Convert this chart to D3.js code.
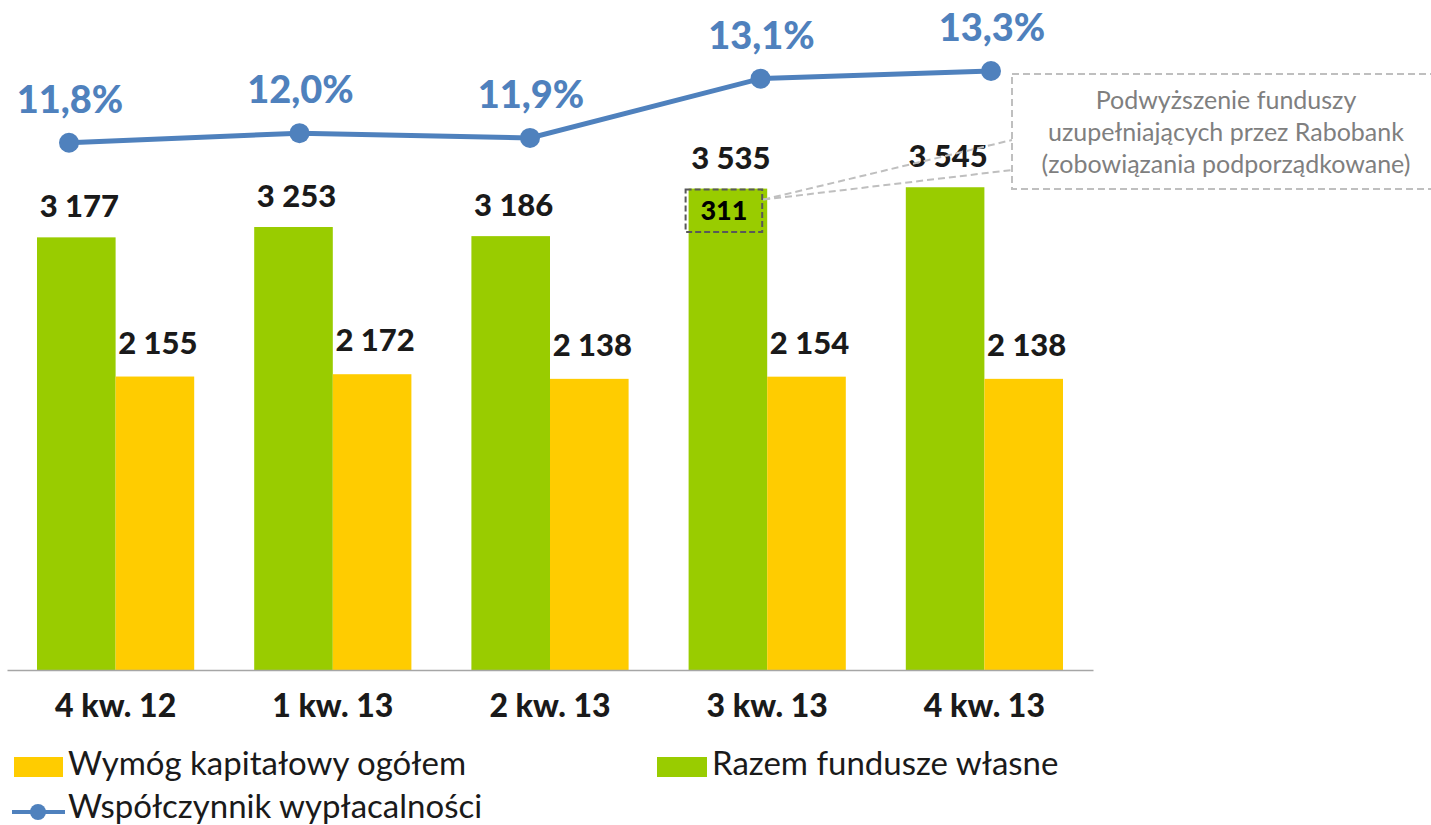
<!DOCTYPE html>
<html><head><meta charset="utf-8">
<script src="https://cdn.jsdelivr.net/npm/d3@7"></script>
<style>body{margin:0;background:#fff}svg{display:block}</style>
</head><body><svg id="c" width="1431" height="825"></svg>
<script>
const categories = ["4 kw. 12","1 kw. 13","2 kw. 13","3 kw. 13","4 kw. 13"];
const ownFunds = [3177,3253,3186,3535,3545];      // Razem fundusze własne
const capitalReq = [2155,2172,2138,2154,2138];    // Wymóg kapitałowy ogółem
const solvency = [11.8,12.0,11.9,13.14,13.3];     // Współczynnik wypłacalności (%)
const incrementCategory = "3 kw. 13";
const incrementValue = 311;
const annotationLines = ["Podwyższenie funduszy","uzupełniających przez Rabobank","(zobowiązania podporządkowane)"];
const seriesNames = ["Razem fundusze własne","Wymóg kapitałowy ogółem","Współczynnik wypłacalności"];

const GREEN="#99CC00", YELLOW="#FFCC00", BLUE="#4F81BD", FONT="Lato, 'Open Sans', sans-serif";
const loc = d3.formatLocale({decimal:",",thousands:" ",grouping:[3],currency:["",""]});
const fmtN = loc.format(",d"), fmtP = v => loc.format(".1f")(v)+"%";

const svg = d3.select("#c");
const x0 = d3.scaleBand().domain(categories).range([7,1093]);
const x1 = d3.scaleBand().domain(["own","req"]).range([30, x0.bandwidth()-30]);
const y = d3.scaleLinear().domain([0,4920]).range([670,0]);
const xl = d3.scalePoint().domain(categories).range([69,991]);
const yl = d3.scaleLinear().domain([11.8,13.3]).range([142.7,71]);

const rows = categories.map((c,i)=>({c, own:ownFunds[i], req:capitalReq[i], s:solvency[i]}));

// bars
const g = svg.append("g");
g.selectAll("rect.own").data(rows).join("rect")
  .attr("x",d=>x0(d.c)+x1("own")).attr("width",x1.bandwidth())
  .attr("y",d=>y(d.own)).attr("height",d=>y(0)-y(d.own)).attr("fill",GREEN);
g.selectAll("rect.req").data(rows).join("rect")
  .attr("x",d=>x0(d.c)+x1("req")).attr("width",x1.bandwidth())
  .attr("y",d=>y(d.req)).attr("height",d=>y(0)-y(d.req)).attr("fill",YELLOW);

// bar labels
g.selectAll("text.own").data(rows).join("text")
  .attr("x",d=>x0(d.c)+x1("own")+x1.bandwidth()/2+3).attr("y",d=>y(d.own)-20)
  .attr("text-anchor","middle").attr("font-family",FONT).attr("font-weight",900)
  .attr("font-size",31).attr("fill","#1a1a1a").text(d=>fmtN(d.own));
g.selectAll("text.req").data(rows).join("text")
  .attr("x",d=>x0(d.c)+x1("req")+x1.bandwidth()/2+3).attr("y",d=>y(d.req)-23)
  .attr("text-anchor","middle").attr("font-family",FONT).attr("font-weight",900)
  .attr("font-size",31).attr("fill","#1a1a1a").text(d=>fmtN(d.req));

// x axis
const ax = svg.append("g").attr("transform","translate(0,670)")
  .call(d3.axisBottom(x0).tickSize(0).tickSizeOuter(0).tickPadding(24));
ax.select(".domain").attr("stroke","#a6a6a6").attr("stroke-width",1.5);
ax.selectAll("text").attr("font-family",FONT).attr("font-weight",900)
  .attr("font-size",32).attr("fill","#1a1a1a");

// increment box (311)
const incRow = rows.find(r=>r.c===incrementCategory);
const bx = x0(incRow.c)+x1("own")-3, bw = x1.bandwidth()-2;
const by0 = y(incRow.own), by1 = y(incRow.own-incrementValue);
svg.append("rect").attr("x",bx).attr("y",by0+1).attr("width",bw).attr("height",by1-by0)
  .attr("fill","none").attr("stroke","#595959").attr("stroke-width",2).attr("stroke-dasharray","6,3");
svg.append("text").attr("x",bx+bw/2).attr("y",(by0+by1)/2+10).attr("text-anchor","middle")
  .attr("font-family",FONT).attr("font-weight",900).attr("font-size",27).attr("fill","#000")
  .text(fmtN(incrementValue));

// annotation box
const ann = svg.append("g");
ann.append("rect").attr("x",1012).attr("y",74).attr("width",440).attr("height",115)
  .attr("fill","none").attr("stroke","#bfbfbf").attr("stroke-width",2).attr("stroke-dasharray","7,4");
ann.selectAll("line").data([140,170]).join("line")
  .attr("x1",bx+bw+1).attr("y1",by0+11).attr("x2",1012).attr("y2",d=>d)
  .attr("stroke","#bfbfbf").attr("stroke-width",2).attr("stroke-dasharray","7,4");
ann.selectAll("text").data(annotationLines).join("text")
  .attr("x",1226).attr("y",(d,i)=>109+i*32).attr("text-anchor","middle")
  .attr("font-family",FONT).attr("font-size",25).attr("fill","#7f7f7f").text(d=>d);

// line
const line = d3.line().x(d=>xl(d.c)).y(d=>yl(d.s));
svg.append("path").datum(rows).attr("d",line).attr("fill","none")
  .attr("stroke",BLUE).attr("stroke-width",5);
svg.selectAll("circle.pt").data(rows).join("circle")
  .attr("cx",d=>xl(d.c)).attr("cy",d=>yl(d.s)).attr("r",10).attr("fill",BLUE);
svg.selectAll("text.pct").data(rows).join("text")
  .attr("x",d=>xl(d.c)+1).attr("y",d=>yl(d.s)-30).attr("text-anchor","middle")
  .attr("font-family",FONT).attr("font-weight",900).attr("font-size",38).attr("fill",BLUE)
  .text(d=>fmtP(d.s));

// legend
const lg = svg.append("g").attr("font-family",FONT).attr("font-size",33).attr("fill","#1a1a1a");
lg.append("rect").attr("x",14).attr("y",757).attr("width",49).attr("height",20).attr("fill",YELLOW);
lg.append("text").attr("x",68).attr("y",775).text(seriesNames[1]);
lg.append("rect").attr("x",657).attr("y",757).attr("width",50).attr("height",20).attr("fill",GREEN);
lg.append("text").attr("x",712).attr("y",775).text(seriesNames[0]);
lg.append("line").attr("x1",12).attr("x2",65).attr("y1",812).attr("y2",812).attr("stroke",BLUE).attr("stroke-width",4);
lg.append("circle").attr("cx",38).attr("cy",812).attr("r",8).attr("fill",BLUE);
lg.append("text").attr("x",68).attr("y",818).text(seriesNames[2]);
</script></body></html>
